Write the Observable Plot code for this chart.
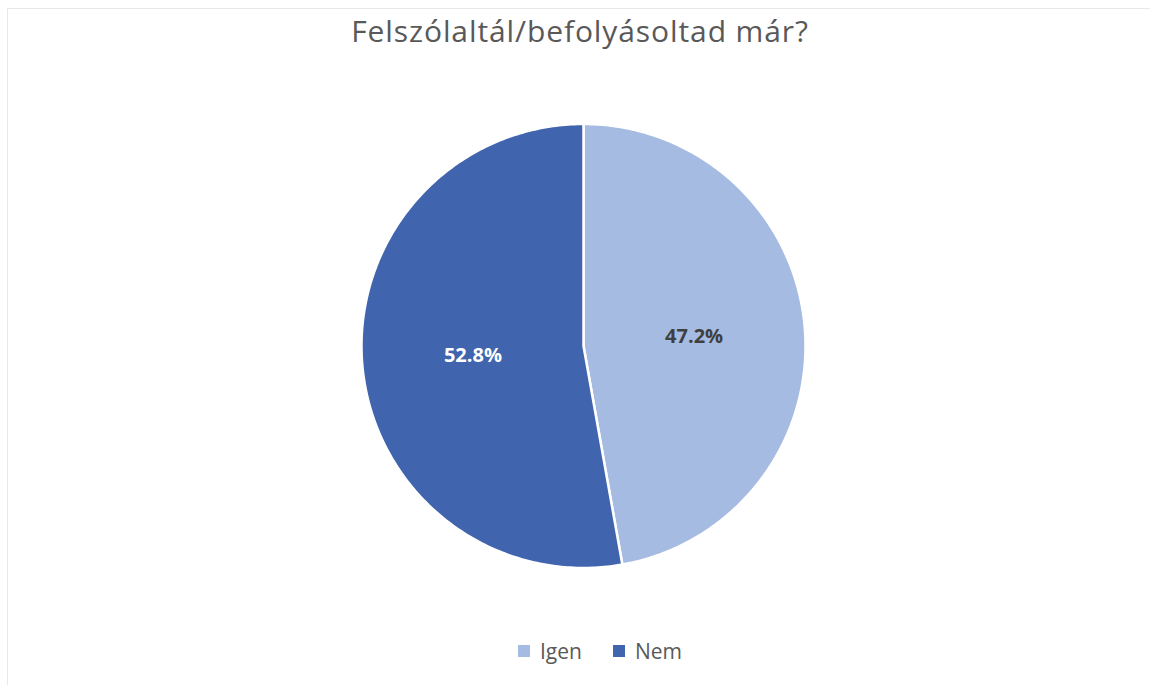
<!DOCTYPE html>
<html>
<head>
<meta charset="utf-8">
<script src="https://cdn.jsdelivr.net/npm/d3@7"></script>
<script src="https://cdn.jsdelivr.net/npm/@observablehq/plot@0.6"></script>
<style>
  html, body { margin: 0; padding: 0; background: #fff; }
  #chart { position: relative; width: 1150px; height: 685px; overflow: hidden; font-family: "Open Sans", sans-serif; }
  #frame { position: absolute; left: 7px; top: 8px; width: 1160px; height: 700px; border-left: 1px solid #e8e8e8; border-top: 1px solid #e8e8e8; }
  #title { position: absolute; left: 0; top: 0; width: 1160px; height: 70px; text-align: center; font-size: 30px; letter-spacing: 0.9px; line-height: 30px; padding-top: 16px; box-sizing: border-box; color: #595959; }
  #plot { position: absolute; left: 0; top: 70px; }
  #legend { position: absolute; left: 518px; top: 637px; display: flex; gap: 31px; font-size: 21px; color: #595959; line-height: 28px; }
  .item { display: flex; align-items: center; gap: 10px; }
  .sw { width: 12px; height: 12px; display: inline-block; }
</style>
</head>
<body>
<div id="chart">
  <div id="frame"></div>
  <div id="title"></div>
  <div id="plot"></div>
  <div id="legend"></div>
</div>
<script>
const title = "Felszólaltál/befolyásoltad már?";
const categories = ["Igen", "Nem"];
const values = [47.2, 52.8];
const valueLabels = ["47.2%", "52.8%"];
const colors = ["#a6bbe1", "#4064ad"];
const labelColors = ["#404040", "#ffffff"];

const R = 222;
const data = categories.map((c, i) => ({category: c, value: values[i], label: valueLabels[i], color: colors[i], labelColor: labelColors[i]}));
const arcs = d3.pie().sort(null).value(d => d.value)(data);

// slice outlines built from the pie angles
const outline = [];
arcs.forEach(a => {
  const n = 240;
  outline.push({category: a.data.category, x: 0, y: 0});
  for (let k = 0; k <= n; k++) {
    const t = a.startAngle + (a.endAngle - a.startAngle) * k / n;
    outline.push({category: a.data.category, x: R * Math.sin(t), y: R * Math.cos(t)});
  }
  outline.push({category: a.data.category, x: 0, y: 0});
});
const labelPts = arcs.map(a => {
  const m = (a.startAngle + a.endAngle) / 2;
  return {category: a.data.category, label: a.data.label, x: 0.5 * R * Math.sin(m), y: 0.5 * R * Math.cos(m), fill: a.data.labelColor};
});

const plot = Plot.plot({
  width: 1150,
  height: 550,
  margin: 0,
  x: {domain: [-583, 567], axis: null},
  y: {domain: [-274.5, 275.5], axis: null},
  color: {domain: categories, range: colors},
  marks: [
    Plot.line(outline, {x: "x", y: "y", z: "category", fill: "category", stroke: "#ffffff", strokeWidth: 2.5, strokeLinejoin: "round"}),
    Plot.text(labelPts, {x: "x", y: "y", text: "label", fill: d => d.fill, fontSize: 20, fontWeight: "bold", fontFamily: "Open Sans, sans-serif"})
  ]
});
document.getElementById("plot").appendChild(plot);
document.getElementById("title").textContent = title;

const legend = document.getElementById("legend");
categories.forEach((c, i) => {
  const it = document.createElement("div");
  it.className = "item";
  const sw = document.createElement("span");
  sw.className = "sw";
  sw.style.background = colors[i];
  const tx = document.createElement("span");
  tx.textContent = c;
  it.appendChild(sw); it.appendChild(tx);
  legend.appendChild(it);
});
</script>
</body>
</html>
